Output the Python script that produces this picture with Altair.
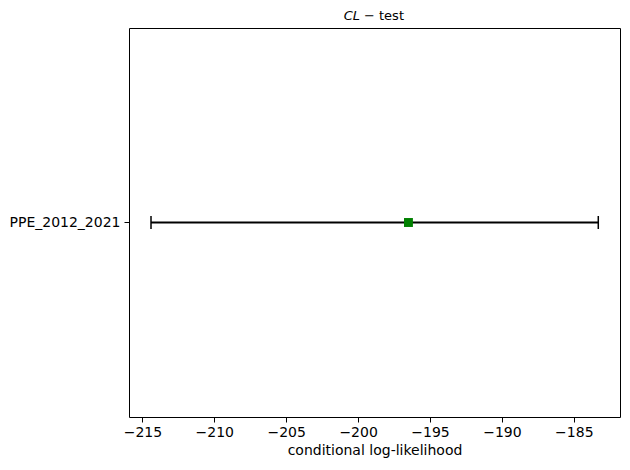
import altair as alt
import pandas as pd

categories = ["PPE_2012_2021"]
means = [-196.5]
lows = [-214.4]
highs = [-183.3]

df = pd.DataFrame({"cat": categories, "mean": means, "lo": lows, "hi": highs})

FONT = "DejaVu Sans"
xscale = alt.Scale(domain=[-215.93, -181.79], nice=False, zero=False)
xaxis = alt.Axis(values=[-215, -210, -205, -200, -195, -190, -185], grid=False,
                 tickSize=5, tickColor="black", domain=False, labelFontSize=14,
                 labelColor="black", labelFont=FONT, labelPadding=3,
                 title="conditional log-likelihood", titleFont=FONT, titleFontSize=14,
                 titleFontWeight="normal", titleColor="black", titlePadding=4)
yaxis = alt.Axis(grid=False, tickSize=5, tickColor="black", domain=False,
                 labelFontSize=14, labelColor="black", labelFont=FONT, labelPadding=4,
                 title=None)

base = alt.Chart(df)

rule = base.mark_rule(color="black", strokeWidth=2).encode(
    x=alt.X("lo:Q", scale=xscale, axis=xaxis),
    x2="hi:Q",
    y=alt.Y("cat:N", axis=yaxis),
)

caps = base.transform_fold(["lo", "hi"], as_=["k", "v"]).mark_tick(
    color="black", thickness=1.5, size=13, opacity=1
).encode(
    x=alt.X("v:Q", scale=xscale),
    y=alt.Y("cat:N"),
)

point = base.mark_point(shape="square", filled=True, size=80, color="#008000", opacity=1).encode(
    x=alt.X("mean:Q", scale=xscale),
    y=alt.Y("cat:N"),
)

t1 = base.mark_text(text="CL", fontStyle="italic", align="right", baseline="alphabetic",
                    font=FONT, fontSize=13, color="black").encode(
    x=alt.value(231), y=alt.value(-8))
t2 = base.mark_text(text="\u2212 test", align="left", baseline="alphabetic",
                    font=FONT, fontSize=13, color="black").encode(
    x=alt.value(235), y=alt.value(-8))

chart = alt.layer(rule, caps, point, t1, t2).properties(
    width=491, height=389,
    autosize=alt.AutoSizeParams(type="none"),
    padding={"left": 121, "top": 20, "right": 2, "bottom": 45},
).configure(background="white").configure_view(stroke="black", strokeWidth=1)

chart.save("out.html", embed_options={"renderer": "svg", "actions": False})
